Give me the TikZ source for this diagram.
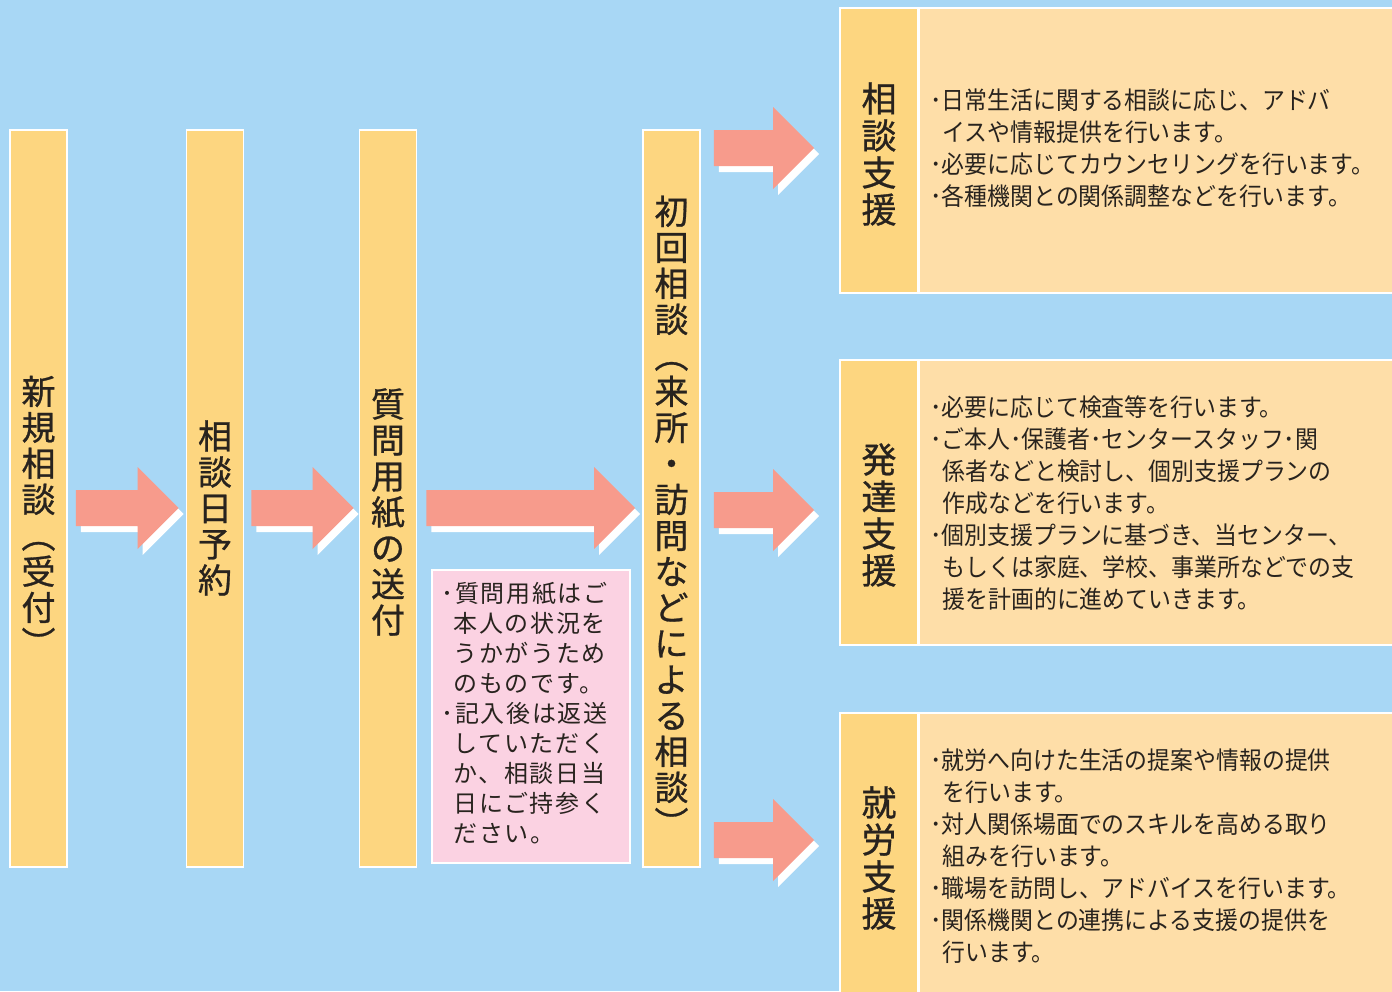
\documentclass[tikz,border=0pt]{standalone}
\usepackage{fontspec}
\usepackage{tikz}
\usetikzlibrary{calc}

\newfontfamily\jpfont[FakeBold=0.8]{Noto Sans CJK JP}
\newfontfamily\jpbody[FakeStretch=0.93]{Noto Sans CJK JP}
\newfontfamily\jpnote[LetterSpace=7]{Noto Sans CJK JP}

\definecolor{bgblue}{RGB}{168,215,245}
\definecolor{colyellow}{RGB}{253,214,128}
\definecolor{boxcream}{RGB}{254,222,168}
\definecolor{arrowpink}{RGB}{247,155,140}
\definecolor{notepink}{RGB}{251,210,226}
\definecolor{inkdark}{RGB}{40,35,30}

% block arrow from tail coordinate #1 to tip coordinate #2
\newcommand{\arrowshape}[2]{($(#1)+(0,-18)$) -- ($(#2)+(-41,-18)$) -- ($(#2)+(-41,-41)$) -- (#2)
  -- ($(#2)+(-41,41)$) -- ($(#2)+(-41,18)$) -- ($(#1)+(0,18)$) -- cycle}
\newcommand{\fatarrow}[2]{%
  \fill[white, transform canvas={shift={(5,6)}}] \arrowshape{#1}{#2};
  \fill[arrowpink] \arrowshape{#1}{#2};}

\begin{document}
\begin{tikzpicture}[x=0.5pt, y=-0.5pt,
    column/.style={draw=white, line width=0.8pt, fill=colyellow, inner sep=0pt,
      minimum width=28.5pt, minimum height=368.5pt},
    strip/.style={draw=white, line width=0.8pt, fill=colyellow, inner sep=0pt,
      minimum width=39pt, minimum height=142.5pt},
    content/.style={draw=white, line width=0.8pt, fill=boxcream, inner sep=0pt,
      minimum width=240pt, minimum height=142.5pt},
    vlabel/.style={text=inkdark, align=center, inner sep=0pt,
      font=\jpfont\fontsize{17}{18}\selectfont},
    slabel/.style={text=inkdark, align=center, inner sep=0pt,
      font=\jpfont\fontsize{17.5}{18.5}\selectfont},
    bodytext/.style={text=inkdark, align=left, inner sep=0pt, anchor=west,
      font=\jpbody\fontsize{12.3}{16}\selectfont},
    notebox/.style={draw=white, line width=0.8pt, fill=notepink, inner sep=0pt,
      minimum width=99pt, minimum height=146.5pt}]

    \useasboundingbox (0,0) rectangle (1392,991);
    \clip (0,0) rectangle (1392,991);
    \fill[bgblue] (0,0) rectangle (1392,991);

    \coordinate (mid) at (0,508);
    \coordinate (r1) at (0,148);
    \coordinate (r2) at (0,510);
    \coordinate (r3) at (0,840);

    % steps
    \node[column] (c1) at (38.5,498.5) {};
    \node[column] (c2) at (215,498.5) {};
    \node[column] (c3) at (388,498.5) {};
    \node[column] (c4) at (671.5,498.5) {};

    \node[vlabel] (l1) at ($(c1 |- mid)+(0,8)$) {新\\規\\相\\談\\︵\\受\\付\\︶};
    \node[vlabel] (l2) at (c2 |- mid) {相\\談\\日\\予\\約};
    \node[vlabel] (l3) at ($(c3 |- mid)+(0,4)$) {質\\問\\用\\紙\\の\\送\\付};
    \node[vlabel] (l4) at ($(c4 |- mid)+(0,8)$) {初\\回\\相\\談\\︵\\来\\所\\・\\訪\\問\\な\\ど\\に\\よ\\る\\相\\談\\︶};

    % note under the third arrow
    \node[notebox] (note) at (531,716.5) {};
    \node[text=inkdark, align=left, inner sep=0pt, anchor=north west,
      font=\jpnote\fontsize{12}{15}\selectfont] (notetext) at (441,582)
      {･質問用紙はご\\
       \hspace*{0.5em}本人の状況を\\
       \hspace*{0.5em}うかがうため\\
       \hspace*{0.5em}のものです。\\
       ･記入後は返送\\
       \hspace*{0.5em}していただく\\
       \hspace*{0.5em}か、相談日当\\
       \hspace*{0.5em}日にご持参く\\
       \hspace*{0.5em}ださい。};

    % support boxes
    \node[strip] (s1) at (879,150.5) {};
    \node[strip] (s2) at (879,502.5) {};
    \node[strip, minimum height=150pt] (s3) at (879,863) {};
    \node[content, anchor=west] (b1) at (s1.east) {};
    \node[content, anchor=west] (b2) at (s2.east) {};
    \node[content, anchor=west, minimum height=150pt] (b3) at (s3.east) {};

    \node[slabel] (t1) at (879,154) {相\\談\\支\\援};
    \node[slabel] (t2) at (879,515) {発\\達\\支\\援};
    \node[slabel] (t3) at (879,858) {就\\労\\支\\援};

    \node[bodytext] (d1) at (930,148.5)
      {･日常生活に関する相談に応じ、アドバ\\
       \hspace*{0.5em}イスや情報提供を行います。\\
       ･必要に応じてカウンセリングを行います。\\
       ･各種機関との関係調整などを行います。};
    \node[bodytext] (d2) at (930,503)
      {･必要に応じて検査等を行います。\\
       ･ご本人･保護者･センタースタッフ･関\\
       \hspace*{0.5em}係者などと検討し、個別支援プランの\\
       \hspace*{0.5em}作成などを行います。\\
       ･個別支援プランに基づき、当センター、\\
       \hspace*{0.5em}もしくは家庭、学校、事業所などでの支\\
       \hspace*{0.5em}援を計画的に進めていきます。};
    \node[bodytext] (d3) at (930,856)
      {･就労へ向けた生活の提案や情報の提供\\
       \hspace*{0.5em}を行います。\\
       ･対人関係場面でのスキルを高める取り\\
       \hspace*{0.5em}組みを行います。\\
       ･職場を訪問し、アドバイスを行います。\\
       ･関係機関との連携による支援の提供を\\
       \hspace*{0.5em}行います。};

    % arrows
    \coordinate (a1s) at ($(c1.east |- mid)+(8,0)$);
    \coordinate (a1e) at ($(c2.west |- mid)+(-7,0)$);
    \coordinate (a2s) at ($(c2.east |- mid)+(7,0)$);
    \coordinate (a2e) at ($(c3.west |- mid)+(-5,0)$);
    \coordinate (a3s) at ($(c3.east |- mid)+(9,0)$);
    \coordinate (a3e) at ($(c4.west |- mid)+(-7,0)$);
    \fatarrow{a1s}{a1e}
    \fatarrow{a2s}{a2e}
    \fatarrow{a3s}{a3e}
    \foreach \r/\s in {r1/s1, r2/s2, r3/s3} {
      \coordinate (fs) at ($(c4.east |- \r)+(13,0)$);
      \coordinate (fe) at ($(\s.west |- \r)+(-25,0)$);
      \fatarrow{fs}{fe}
    }
\end{tikzpicture}
\end{document}
